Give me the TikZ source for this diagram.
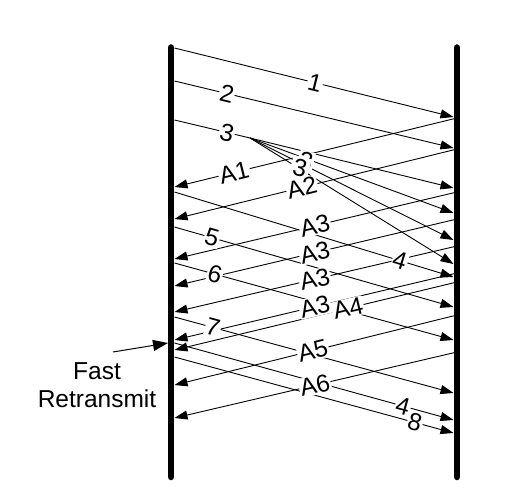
\documentclass[tikz,border=0pt]{standalone}
\usepackage{fontspec}
\setmainfont{Liberation Sans}
\usetikzlibrary{arrows.meta}
\begin{document}
\begin{tikzpicture}[x=1pt,y=-1pt,
  bar/.style={line width=6.5pt, line cap=round},
  msg/.style={line width=0.9pt, -{Triangle[length=13pt,width=9pt]}},
  plain/.style={line width=0.9pt},
  frarrow/.style={line width=1pt, -{Triangle[length=15pt,width=11pt]}},
  lbl/.style={fill=white, inner sep=1pt, font=\fontsize{24.5}{28}\selectfont, sloped},
  txt/.style={inner sep=0pt, font=\fontsize{24.5}{28}\selectfont, align=center},
]
\useasboundingbox (0,0) rectangle (506,500);
% bars
\coordinate (LT) at (171,47.5); \coordinate (LB) at (171,477);
\coordinate (RT) at (457,47.5); \coordinate (RB) at (457,477);
\draw[bar] (LT) -- (LB);
\draw[bar] (RT) -- (RB);
% data start points (left)
\coordinate (d1) at (174.5,48);  \coordinate (d2) at (174.5,81);
\coordinate (d3) at (174.5,120); \coordinate (d4) at (174.5,192);
\coordinate (d5) at (174.5,227); \coordinate (d6) at (174.5,263);
\coordinate (d7) at (174.5,317); \coordinate (d8) at (174.5,343);
\coordinate (d9) at (174.5,357);
\coordinate (F) at (250,138);
% data end points (right)
\coordinate (e1) at (453.5,117); \coordinate (e2) at (453.5,148);
\coordinate (f1) at (453.5,188); \coordinate (f2) at (453.5,213);
\coordinate (f3) at (453.5,240); \coordinate (f4) at (453.5,264);
\coordinate (e4) at (453.5,277); \coordinate (e5) at (453.5,307);
\coordinate (e6) at (453.5,340); \coordinate (e7) at (453.5,393);
\coordinate (e8) at (453.5,420); \coordinate (e9) at (453.5,433);
% ack start points (right)
\coordinate (a1) at (457,118); \coordinate (a2) at (457,149);
\coordinate (a3) at (457,192); \coordinate (a4) at (457,219);
\coordinate (a5) at (457,246); \coordinate (a6) at (457,273);
\coordinate (a7) at (457,282); \coordinate (a8) at (457,315);
\coordinate (a9) at (457,352);
% ack end points (left)
\coordinate (b1) at (174.5,187); \coordinate (b2) at (174.5,219);
\coordinate (b3) at (174.5,259); \coordinate (b4) at (174.5,286);
\coordinate (b5) at (174.5,312); \coordinate (b6) at (174.5,340);
\coordinate (b7) at (174.5,350); \coordinate (b8) at (174.5,385);
\coordinate (b9) at (174.5,418);
% data lines
\draw[msg] (d1) -- (e1);
\draw[msg] (d2) -- (e2);
\draw[plain] (d3) -- (F);
\draw[msg] (F) -- (f1);
\draw[msg] (F) -- (f2);
\draw[msg] (F) -- (f3);
\draw[msg] (F) -- (f4);
\draw[msg] (d4) -- (e4);
\draw[msg] (d5) -- (e5);
\draw[msg] (d6) -- (e6);
\draw[msg] (d7) -- (e7);
\draw[msg] (d8) -- (e8);
\draw[msg] (d9) -- (e9);
% ack lines
\draw[msg] (a1) -- (b1);
\draw[msg] (a2) -- (b2);
\draw[msg] (a3) -- (b3);
\draw[msg] (a4) -- (b4);
\draw[msg] (a5) -- (b5);
\draw[msg] (a6) -- (b6);
\draw[msg] (a7) -- (b7);
\draw[msg] (a8) -- (b8);
\draw[msg] (a9) -- (b9);
% labels (on top of all lines)
\path (d1) -- (e1) node[lbl, pos=0.504] (l1) {1};
\path (d2) -- (e2) node[lbl, pos=0.188] (l2) {2};
\path (d3) -- (F)  node[lbl, pos=0.695] (l3) {3};
\node[lbl, sloped=false, rotate=-14] (l3b) at (306,161) {3};
\node[lbl, sloped=false, rotate=-14, inner sep=2.5pt] (l3c) at (300,168) {3};
\path (d4) -- (e4) node[lbl, pos=0.808] (l4) {4};
\path (d5) -- (e5) node[lbl, pos=0.134] (l5) {5};
\path (d6) -- (e6) node[lbl, pos=0.145] (l6) {6};
\path (d7) -- (e7) node[lbl, pos=0.138] (l7) {7};
\path (d8) -- (e8) node[lbl, pos=0.819] (l4r) {4};
\path (d9) -- (e9) node[lbl, pos=0.862] (l8) {8};
\path (a1) -- (b1) node[lbl, pos=0.789] (la1) {A1};
\path (a2) -- (b2) node[lbl, pos=0.549] (la2) {A2};
\path (a3) -- (b3) node[lbl, pos=0.503] (la3a) {A3};
\path (a4) -- (b4) node[lbl, pos=0.503] (la3b) {A3};
\path (a5) -- (b5) node[lbl, pos=0.503] (la3c) {A3};
\path (a6) -- (b6) node[lbl, pos=0.503] (la3d) {A3};
\path (a7) -- (b7) node[lbl, pos=0.386] (la4) {A4};
\path (a8) -- (b8) node[lbl, pos=0.51] (la5) {A5};
\path (a9) -- (b9) node[lbl, pos=0.503] (la6) {A6};
% fast retransmit
\node[txt] (ftxt) at (97,385.5) {Fast\\Retransmit};
\coordinate (frs) at (113,352);
\coordinate (frt) at (168,343);
\draw[frarrow] (frs) -- (frt);
\end{tikzpicture}
\end{document}
